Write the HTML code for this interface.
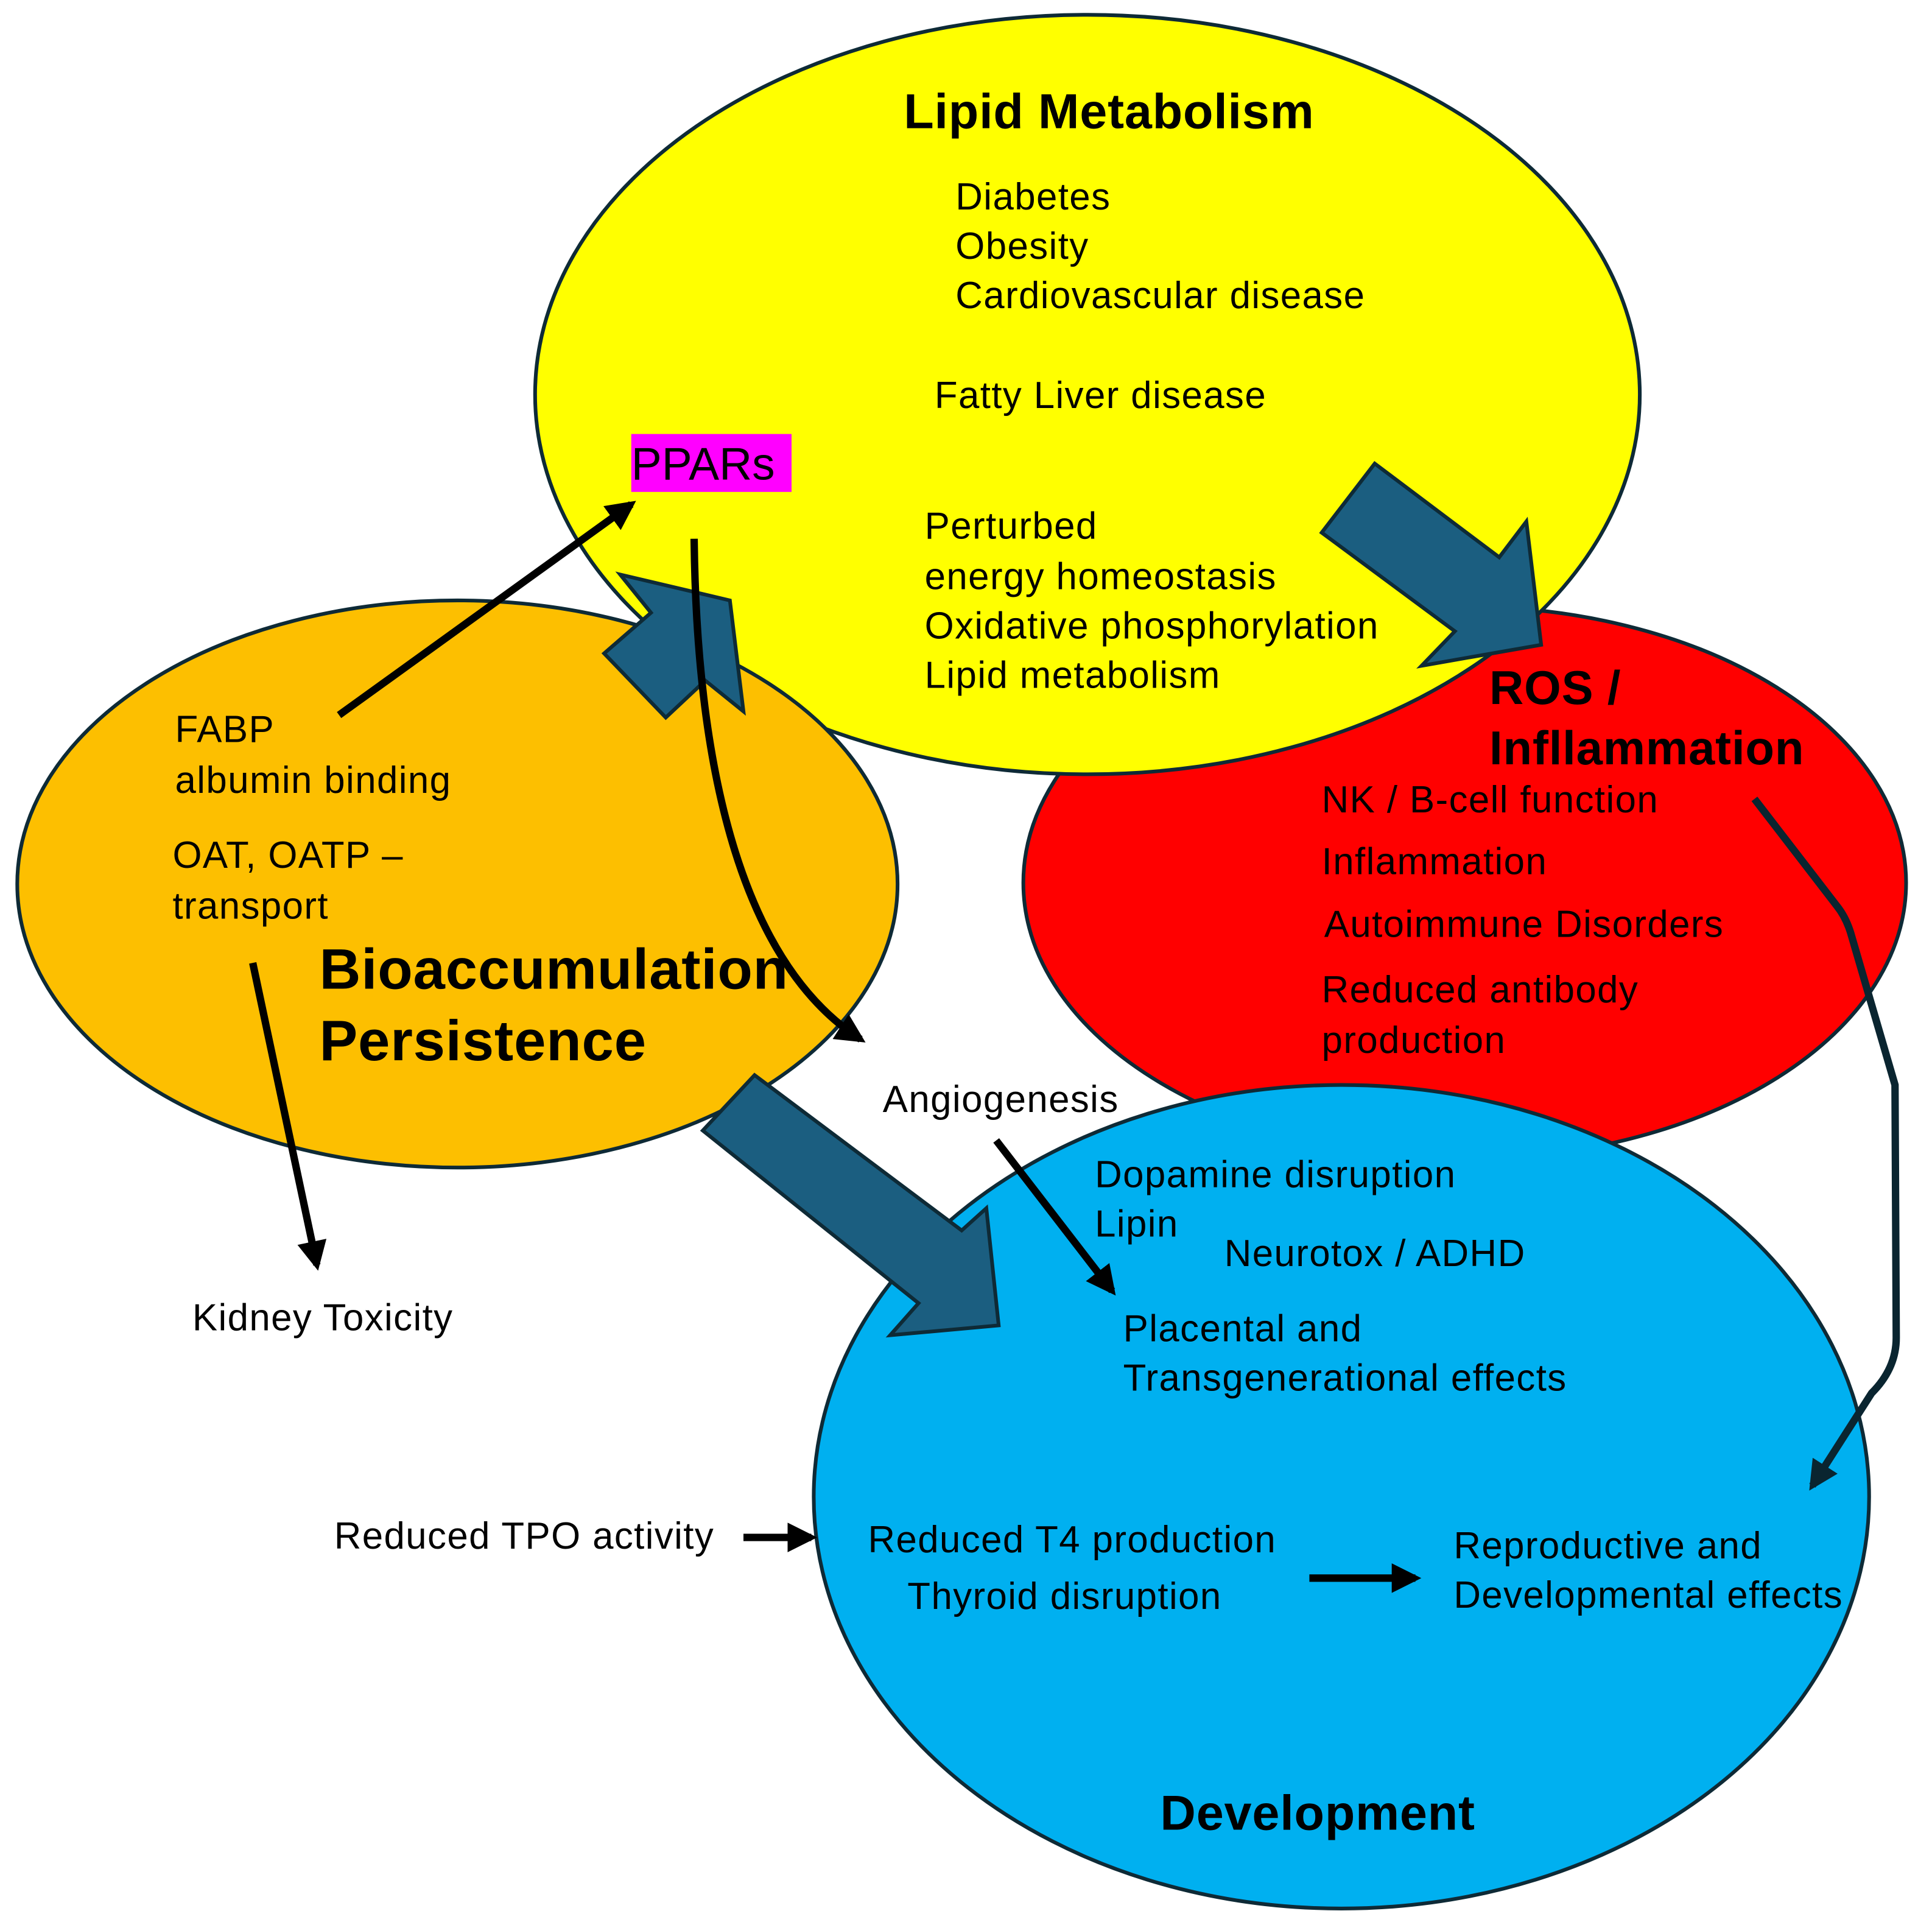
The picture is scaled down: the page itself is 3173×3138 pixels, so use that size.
<!DOCTYPE html>
<html><head><meta charset="utf-8"><style>
html,body{margin:0;padding:0;background:#fff;}
svg{display:block;}
text{font-family:"Liberation Sans",sans-serif;fill:#000;}
.t{font-size:30.5px;letter-spacing:0.7px;}
.b{font-weight:bold;letter-spacing:0.4px;}
</style></head><body>
<svg width="3173" height="3138" viewBox="0 0 1567 1550" preserveAspectRatio="none" xmlns="http://www.w3.org/2000/svg">
<defs>
<marker id="ah" viewBox="0 0 10 10" refX="8" refY="5" markerWidth="4" markerHeight="4" orient="auto" markerUnits="strokeWidth"><path d="M0,0 L10,5 L0,10 z" fill="#000"/></marker>
<marker id="ah2" viewBox="0 0 10 10" refX="8" refY="5" markerWidth="4" markerHeight="4" orient="auto" markerUnits="strokeWidth"><path d="M0,0 L10,5 L0,10 z" fill="#0a2530"/></marker>
</defs>
<ellipse cx="1188" cy="716" rx="358" ry="224" fill="#ff0000" stroke="#0e2a36" stroke-width="3"/>
<ellipse cx="882" cy="320" rx="448" ry="308" fill="#ffff00" stroke="#0e2a36" stroke-width="3"/>
<ellipse cx="371" cy="717" rx="357" ry="230" fill="#fdbf00" stroke="#0e2a36" stroke-width="3"/>
<ellipse cx="1088" cy="1214" rx="428" ry="334" fill="#00b0f0" stroke="#0e2a36" stroke-width="3"/>

<polygon points="1072,432 1115,376 1216,452 1238,423 1250,523 1153,540 1180,512" fill="#1b5e80" stroke="#0e2a36" stroke-width="3"/>
<polygon points="540,582 490,530 528,497 503,466 592,487 603,577 572,552" fill="#1b5e80" stroke="#0e2a36" stroke-width="3"/>
<polygon points="570,917 612,872 780,998 800,980 810,1075 722,1083 745,1057" fill="#1b5e80" stroke="#0e2a36" stroke-width="3"/>

<g stroke="#000" stroke-width="6" fill="none">
<line x1="275" y1="580" x2="512" y2="409" marker-end="url(#ah)"/>
<path d="M563,437 C565,620 600,780 698,843" marker-end="url(#ah)"/>
<line x1="205" y1="781" x2="257" y2="1026" marker-end="url(#ah)"/>
<line x1="808" y1="925" x2="902" y2="1047" marker-end="url(#ah)"/>
<line x1="603" y1="1247" x2="658" y2="1247" marker-end="url(#ah)"/>
<line x1="1062" y1="1280" x2="1148" y2="1280" marker-end="url(#ah)"/>
</g>
<path d="M1423,648 L1490,735 Q1498,745 1502,760 L1537,880 L1538,1085 Q1538,1110 1518,1130 L1470,1205" stroke="#0a2530" stroke-width="6" fill="none" marker-end="url(#ah2)"/>

<rect x="512" y="352" width="130" height="47" fill="#ff00ff"/>
<text x="512" y="389" font-size="37">PPARs</text>

<text x="733" y="104" font-size="40" class="b">Lipid Metabolism</text>
<text class="t" x="775" y="170">Diabetes</text>
<text class="t" x="775" y="210">Obesity</text>
<text class="t" x="775" y="250">Cardiovascular disease</text>
<text class="t" x="758" y="331">Fatty Liver disease</text>
<text class="t" x="750" y="437">Perturbed</text>
<text class="t" x="750" y="478">energy homeostasis</text>
<text class="t" x="750" y="518">Oxidative phosphorylation</text>
<text class="t" x="750" y="558">Lipid metabolism</text>

<text x="1208" y="571" font-size="38.5" class="b">ROS /</text>
<text x="1208" y="620" font-size="38.5" class="b">Infllammation</text>
<text class="t" x="1072" y="659">NK / B-cell function</text>
<text class="t" x="1072" y="709">Inflammation</text>
<text class="t" x="1074" y="760">Autoimmune Disorders</text>
<text class="t" x="1072" y="813">Reduced antibody</text>
<text class="t" x="1072" y="854">production</text>

<text class="t" x="142" y="602">FABP</text>
<text class="t" x="142" y="643">albumin binding</text>
<text class="t" x="140" y="704">OAT, OATP –</text>
<text class="t" x="140" y="745">transport</text>
<text x="259" y="802" font-size="46.5" class="b">Bioaccumulation</text>
<text x="259" y="860" font-size="46.5" class="b">Persistence</text>

<text class="t" x="716" y="902">Angiogenesis</text>
<text class="t" x="888" y="963">Dopamine disruption</text>
<text class="t" x="888" y="1003">Lipin</text>
<text class="t" x="993" y="1027">Neurotox / ADHD</text>
<text class="t" x="911" y="1088">Placental and</text>
<text class="t" x="911" y="1128">Transgenerational effects</text>
<text class="t" x="156" y="1079">Kidney Toxicity</text>
<text class="t" x="271" y="1256">Reduced TPO activity</text>
<text class="t" x="704" y="1259">Reduced T4 production</text>
<text class="t" x="736" y="1305">Thyroid disruption</text>
<text class="t" x="1179" y="1264">Reproductive and</text>
<text class="t" x="1179" y="1304">Developmental effects</text>
<text x="941" y="1484" font-size="40" class="b">Development</text>
</svg>
</body></html>
